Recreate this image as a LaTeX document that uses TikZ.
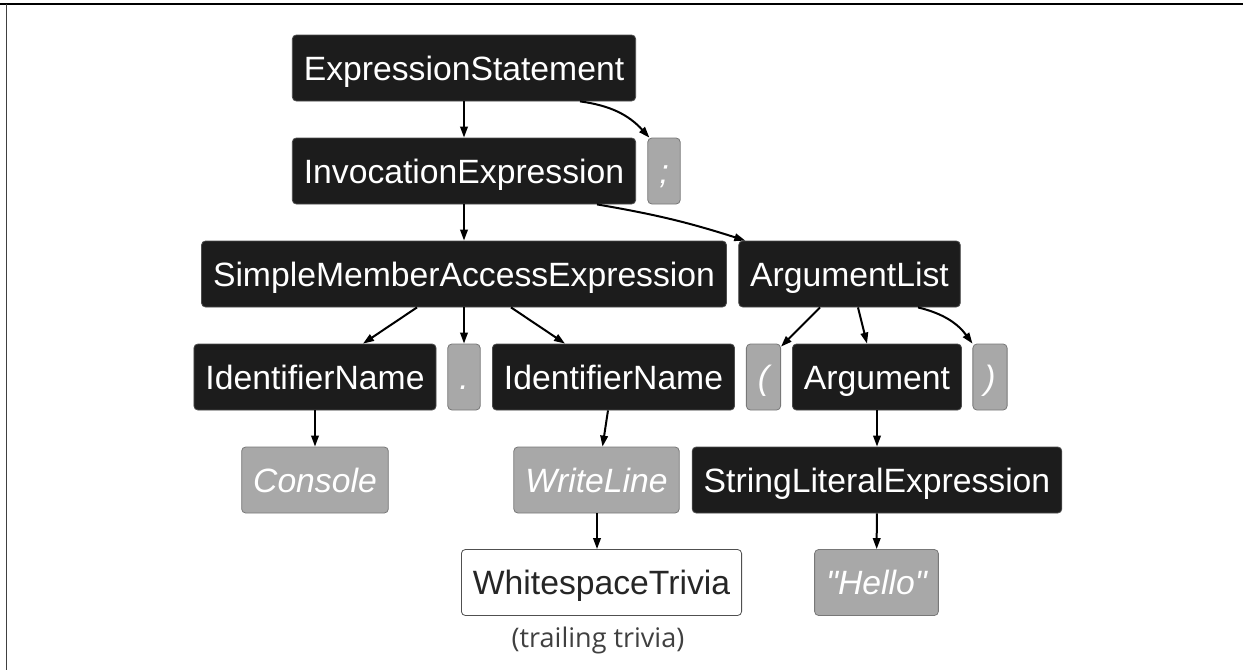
\documentclass[tikz,border=0pt]{standalone}
\usepackage{fontspec}
\setmainfont[Ligatures = TeXOff]{Liberation Sans}
\newfontfamily\triviafont{Open Sans}
\usetikzlibrary{arrows.meta}
\definecolor{nodeblack}{RGB}{28,28,28}
\definecolor{tokengray}{RGB}{168,168,168}
\definecolor{tokenline}{RGB}{120,120,120}
\definecolor{trivialine}{RGB}{80,80,80}

\begin{document}
\begin{tikzpicture}[
  x = 1pt, y = -1pt,
  box/.style = {rounded corners = 4pt, minimum height = 66pt, inner xsep = 11.5pt,
                text height = 24pt, text depth = 0pt, line width = 0.8pt,
                font = \fontsize{33.7pt}{40pt}\selectfont},
  synnode/.style = {box, fill = nodeblack, draw = gray!60!black, text = white},
  toknode/.style = {box, fill = tokengray, draw = tokenline, text = white,
                    font = \fontsize{33.7pt}{40pt}\selectfont\itshape},
  trivnode/.style = {box, fill = white, draw = trivialine, text = black!85},
  link/.style = {line width = 2pt, -{Triangle[length = 11pt, width = 7.5pt]}},
  ]
  \useasboundingbox (0,0) rectangle (1243,670);
  \draw[line width = 2pt] (0,4) -- (1243,4);
  \draw[line width = 1.5pt, black!75] (6.5,4) -- (6.5,670);

  \node[synnode] (exprstmt) at (464,68)    {ExpressionStatement};
  \node[synnode] (invoc)    at (464,171)   {InvocationExpression};
  \node[toknode] (semi)     at (664,171)   {;};
  \node[synnode] (member)   at (464,274)   {SimpleMemberAccessExpression};
  \node[synnode] (arglist)  at (849.5,274) {ArgumentList};
  \node[synnode] (identl)   at (315,377)   {IdentifierName};
  \node[toknode] (dot)      at (464,377)   {.};
  \node[synnode] (identr)   at (613.5,377) {IdentifierName};
  \node[toknode] (lparen)   at (763.5,377) {(};
  \node[synnode] (arg)      at (877,377)   {Argument};
  \node[toknode] (rparen)   at (990,377)   {)};
  \node[toknode] (console)  at (315,480)   {Console};
  \node[toknode] (writeln)  at (596.5,480) {WriteLine};
  \node[synnode] (strlit)   at (877,480)   {StringLiteralExpression};
  \node[trivnode] (space)   at (601.5,582.5) {WhitespaceTrivia};
  \node[toknode] (hello)    at (876.5,582.5) {"Hello"};
  \node[text = black!75, font = \fontsize{27pt}{32pt}\triviafont] (trail) at (598,640) {(trailing trivia)};

  \draw[link] (exprstmt) -- (invoc);
  \draw[link] ([xshift = 116pt]exprstmt.south) to[bend left = 20] ([xshift = 2pt]semi.north west);
  \draw[link] (invoc) -- (member);
  \draw[link] ([xshift = 133pt]invoc.south) to[bend left = 4] ([xshift = 7pt]arglist.north west);
  \draw[link] ([xshift = -47pt]member.south) -- ([xshift = 48pt]identl.north);
  \draw[link] (member) -- (dot);
  \draw[link] ([xshift = 47pt]member.south) -- ([xshift = -48.5pt]identr.north);
  \draw[link] ([xshift = -29.5pt]arglist.south) -- ([yshift = -3pt]lparen.north east);
  \draw[link] ([xshift = 8.5pt]arglist.south) -- ([xshift = -10pt]arg.north);
  \draw[link] ([xshift = 68.5pt]arglist.south) to[bend left = 20] (rparen.north west);
  \draw[link] (identl) -- (console);
  \draw[link] ([xshift = -5.5pt]identr.south) -- ([xshift = 6pt]writeln.north);
  \draw[link] (arg) -- (strlit);
  \draw[link] (strlit) -- (hello);
  \draw[link] ([xshift = 0.5pt]writeln.south) -- ([xshift = -4.5pt]space.north);
\end{tikzpicture}
\end{document}
